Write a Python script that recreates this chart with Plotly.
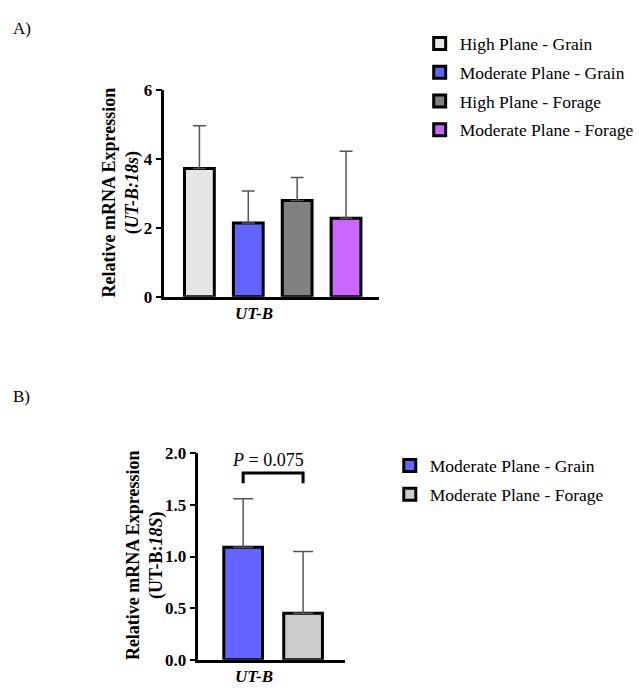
import plotly.graph_objects as go

FONT = "Liberation Serif"

# Panel A data
a_groups = ["High Plane - Grain", "Moderate Plane - Grain", "High Plane - Forage", "Moderate Plane - Forage"]
a_means = [3.72, 2.14, 2.79, 2.28]
a_sd = [1.24, 0.93, 0.67, 1.94]
a_colors = ["#e6e6e6", "#6363ff", "#808080", "#c967ff"]

# Panel B data
b_groups = ["Moderate Plane - Grain", "Moderate Plane - Forage"]
b_means = [1.09, 0.45]
b_sd = [0.47, 0.60]
b_colors = ["#6363ff", "#cccccc"]

gene = "UT-B"
p_text = "<i>P</i> = 0.075"
a_ytitle = "<b>Relative mRNA Expression<br>(<i>UT-B:18s</i>)</b>"
b_ytitle = "<b>Relative mRNA Expression<br>(UT-B:<i>18S</i>)</b>"

W, H = 639, 692

fig = go.Figure()

def add_panel(groups, means, sd, colors, xa, ya, legend, slot, width, cap):
    n = len(groups)
    for i, (g, m, s, c) in enumerate(zip(groups, means, sd, colors)):
        off = (i - (n - 1) / 2) * slot - width / 2
        fig.add_trace(go.Bar(
            x=[gene], y=[m], name=g,
            marker=dict(color=c, line=dict(color="black", width=3)),
            width=width, offset=off,
            error_y=dict(type="data", array=[s], arrayminus=[0], symmetric=False,
                         color="#555555", thickness=1.5, width=cap),
            xaxis=xa, yaxis=ya, legend=legend, legendgroup=g + legend,
        ))

add_panel(a_groups, a_means, a_sd, a_colors, "x", "y", "legend", 0.228, 0.139, 6.5)
add_panel(b_groups, b_means, b_sd, b_colors, "x2", "y2", "legend2", 0.409, 0.264, 10)

base = dict(showline=True, linecolor="black", linewidth=2.5, showgrid=False, zeroline=False)
yticks = dict(ticks="outside", tickcolor="black", tickwidth=2, ticklen=6,
              tickfont=dict(family=FONT, size=17, color="black"))
xticks = dict(ticks="", showticklabels=False)

fig.update_layout(
    width=W, height=H, margin=dict(l=0, r=0, t=0, b=0),
    paper_bgcolor="white", plot_bgcolor="white",
    barmode="overlay", showlegend=True,
    font=dict(family=FONT, color="black"),
    xaxis=dict(domain=[165 / W, 380 / W], anchor="y", range=[-0.505, 0.495], **base, **xticks),
    yaxis=dict(domain=[1 - 296 / H, 1 - 83 / H], anchor="x", range=[0, 6], dtick=2,
               tickformat="d", tickprefix="<b>", ticksuffix="</b>", **base, **yticks),
    xaxis2=dict(domain=[199 / W, 346 / W], anchor="y2", range=[-0.51, 0.49], **base, **xticks),
    yaxis2=dict(domain=[1 - 669 / H, 1 - 457 / H], anchor="x2", range=[0, 2], dtick=0.5,
                tickformat=".1f", tickprefix="<b>", ticksuffix="</b>", **base, **yticks),
    legend=dict(x=421 / W, y=1 - 17 / H, xanchor="left", yanchor="top",
                font=dict(family=FONT, size=17.5, color="black"), tracegroupgap=3,
                bgcolor="rgba(0,0,0,0)"),
    legend2=dict(x=391 / W, y=1 - 451 / H, xanchor="left", yanchor="top",
                 font=dict(family=FONT, size=17.5, color="black"), tracegroupgap=3,
                 bgcolor="rgba(0,0,0,0)"),
)

# y-axis titles
fig.add_annotation(x=121 / W, y=1 - 189 / H, xref="paper", yref="paper", text=a_ytitle,
                   textangle=-90, showarrow=False, xanchor="center", yanchor="middle",
                   font=dict(family=FONT, size=18, color="black"))
fig.add_annotation(x=145 / W, y=1 - 562 / H, xref="paper", yref="paper", text=b_ytitle,
                   textangle=-90, showarrow=False, xanchor="center", yanchor="middle",
                   font=dict(family=FONT, size=18, color="black"))

# category labels
fig.add_annotation(x=gene, y=0, xref="x", yref="y", text="<b><i>UT-B</i></b>", showarrow=False,
                   yanchor="top", yshift=-5, xshift=-19, font=dict(family=FONT, size=17, color="black"))
fig.add_annotation(x=gene, y=0, xref="x2", yref="y2", text="<b><i>UT-B</i></b>", showarrow=False,
                   yanchor="top", yshift=-5, xshift=-19, font=dict(family=FONT, size=17, color="black"))

# significance bracket for panel B
c0 = -0.5 * 0.409
c1 = 0.5 * 0.409
fig.add_shape(type="path", xref="x2", yref="y2",
              path=f"M {c0},1.71 L {c0},1.81 L {c1},1.81 L {c1},1.71",
              line=dict(color="black", width=3))
fig.add_annotation(x=0, y=1.82, xref="x2", yref="y2", text=p_text, showarrow=False,
                   yanchor="bottom", xshift=-5, font=dict(family=FONT, size=18, color="black"))

fig.add_annotation(x=11 / W, y=1 - 20 / H, xref="paper", yref="paper", text="A)",
                   showarrow=False, xanchor="left", yanchor="middle",
                   font=dict(family=FONT, size=17, color="black"))
fig.add_annotation(x=11 / W, y=1 - 398 / H, xref="paper", yref="paper", text="B)",
                   showarrow=False, xanchor="left", yanchor="middle",
                   font=dict(family=FONT, size=17, color="black"))

fig.write_html("out.html")
